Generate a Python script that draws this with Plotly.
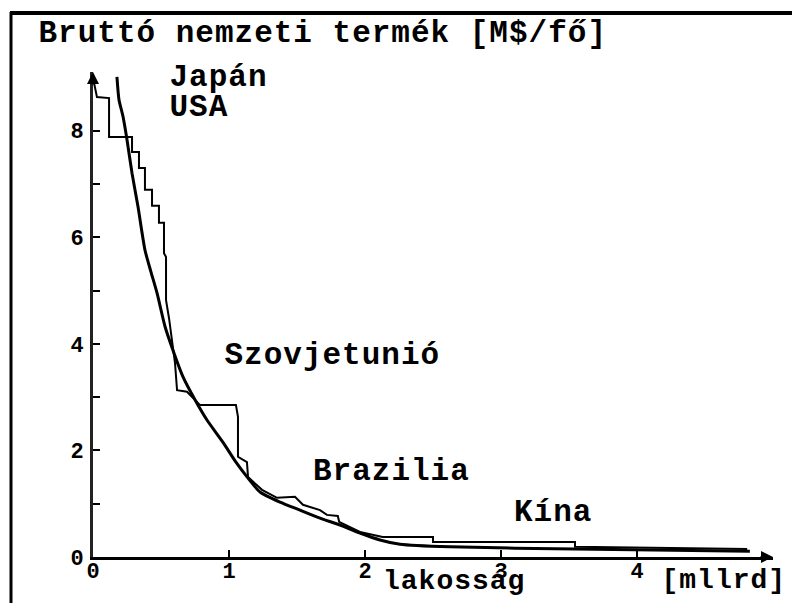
import plotly.graph_objects as go

# ---- data ----
# smooth fitted curve: population [billion] vs GNP per capita
curve_x = [0.176, 0.191, 0.221, 0.25, 0.287, 0.331, 0.382, 0.425, 0.471, 0.529, 0.588, 0.662,
           0.75, 0.838, 0.956, 1.051, 1.14, 1.228, 1.375, 1.522, 1.669, 1.816, 1.963, 2.11,
           2.257, 2.625, 3.544, 4.83]
curve_y = [9.01, 8.58, 8.26, 7.83, 7.20, 6.57, 5.76, 5.36, 4.95, 4.33, 3.88, 3.38,
           2.95, 2.57, 2.15, 1.78, 1.48, 1.22, 1.03, 0.88, 0.73, 0.60, 0.45, 0.32,
           0.24, 0.19, 0.15, 0.11]

# staircase of countries (cumulative population vs GNP per capita)
stair_x = [0.0, 0.029, 0.118, 0.118, 0.287, 0.287, 0.338, 0.338, 0.382, 0.382, 0.434, 0.434,
           0.485, 0.485, 0.522, 0.522, 0.537, 0.537, 0.559, 0.603, 0.618, 0.691, 0.787,
           1.051, 1.066, 1.066, 1.132, 1.14, 1.243, 1.353, 1.485, 1.544, 1.669, 1.72, 1.80,
           1.81, 1.963, 2.13, 2.50, 2.50, 3.544, 3.544, 4.81]
stair_y = [8.99, 8.63, 8.61, 7.88, 7.88, 7.60, 7.60, 7.30, 7.30, 6.89, 6.89, 6.59,
           6.59, 6.27, 6.27, 5.70, 5.63, 4.82, 4.48, 3.64, 3.13, 3.10, 2.85,
           2.85, 2.63, 1.88, 1.78, 1.50, 1.26, 1.11, 1.13, 0.98, 0.88, 0.79, 0.77,
           0.66, 0.47, 0.375, 0.375, 0.28, 0.28, 0.19, 0.15]

x_tick_vals = [0, 1, 2, 3, 4]
x_tick_text = ["0", "1", "2", "3", "4"]
y_tick_vals = [0, 1, 2, 3, 4, 5, 6, 7, 8]
y_tick_text = ["0", "", "2", "", "4", "", "6", "", "8"]

title_text = "Bruttó nemzeti termék [M$/fő]"
labels = ["Japán", "USA", "Szovjetunió", "Brazilia", "Kína"]
label_x = [0.55, 0.55, 0.95, 1.60, 3.08]
label_y = [8.99, 8.44, 3.79, 1.60, 0.84]
x_title = "lakosság"
x_unit = "[mllrd]"

# ---- layout geometry ----
W, H = 792, 603
ML, MR, MT, MB = 93, 19, 72, 46
PW, PH = W - ML - MR, H - MT - MB
LETTER_SP = 1.0  # px of extra letter spacing (applied via CSS, centred by plotly)


def px_x(p):
    return (p - ML) / PW


def px_y(p):
    return (H - MB - p) / PH


def shift(t):
    return len(t) * LETTER_SP / 2.0


FONT = "Liberation Mono"

fig = go.Figure()
fig.add_trace(go.Scatter(x=stair_x, y=stair_y, mode="lines",
                         line=dict(color="black", width=2), hoverinfo="skip"))
fig.add_trace(go.Scatter(x=curve_x, y=curve_y, mode="lines",
                         line=dict(color="black", width=3, shape="spline", smoothing=0.6),
                         hoverinfo="skip"))

annotations = []
annotations.append(dict(text=title_text, xref="paper", yref="paper",
                        x=px_x(36), y=px_y(33), xanchor="left", yanchor="middle",
                        xshift=shift(title_text), showarrow=False,
                        font=dict(family=FONT, size=31, color="black", weight="bold")))
for t, lx, ly in zip(labels, label_x, label_y):
    annotations.append(dict(text=t, x=lx, y=ly, xref="x", yref="y",
                            xanchor="left", yanchor="middle", xshift=shift(t),
                            showarrow=False,
                            font=dict(family=FONT, size=31, color="black", weight="bold")))
annotations.append(dict(text=x_title, xref="paper", yref="paper", x=px_x(381), y=px_y(581),
                        xanchor="left", yanchor="middle", xshift=shift(x_title),
                        showarrow=False,
                        font=dict(family=FONT, size=28, color="black", weight="bold")))
annotations.append(dict(text=x_unit, xref="paper", yref="paper", x=px_x(659), y=px_y(580),
                        xanchor="left", yanchor="middle", xshift=shift(x_unit),
                        showarrow=False,
                        font=dict(family=FONT, size=28, color="black", weight="bold")))
# axis arrows
annotations.append(dict(text="", xref="paper", yref="paper", x=1.0, y=0.0, ax=-14, ay=0,
                        showarrow=True, arrowhead=2, arrowsize=1.2, arrowwidth=2,
                        arrowcolor="black"))
annotations.append(dict(text="", xref="paper", yref="paper", x=0.0, y=1.0, ax=0, ay=14,
                        showarrow=True, arrowhead=2, arrowsize=1.2, arrowwidth=2,
                        arrowcolor="black"))

shapes = [
    dict(type="line", xref="paper", yref="paper", x0=px_x(10), x1=px_x(792),
         y0=px_y(13), y1=px_y(13), line=dict(color="black", width=4)),
    dict(type="line", xref="paper", yref="paper", x0=px_x(11), x1=px_x(11),
         y0=px_y(12), y1=px_y(603), line=dict(color="black", width=3)),
]

tickfont = dict(family=FONT, size=22, color="black", weight="bold")
fig.update_layout(
    width=W, height=H, autosize=False,
    margin=dict(l=ML, r=MR, t=MT, b=MB, pad=0),
    paper_bgcolor="white", plot_bgcolor="white",
    showlegend=False,
    annotations=annotations, shapes=shapes,
    xaxis=dict(range=[0, 5], showgrid=False, zeroline=False, showline=True,
               linecolor="black", linewidth=3, ticks="inside", ticklen=7, tickwidth=2,
               tickcolor="black", tickmode="array", tickvals=x_tick_vals,
               ticktext=x_tick_text, tickfont=tickfont, ticklabelstandoff=-8),
    yaxis=dict(range=[0, 9.1], showgrid=False, zeroline=False, showline=True,
               linecolor="#222", linewidth=3, ticks="inside", ticklen=7, tickwidth=2,
               tickcolor="black", tickmode="array", tickvals=y_tick_vals,
               ticktext=y_tick_text, tickfont=tickfont, ticklabelstandoff=2),
)

post = (
    "document.body.style.margin='0';"
    "var s=document.createElement('style');"
    "s.textContent='.annotation-text{letter-spacing:" + str(LETTER_SP) + "px}';"
    "document.head.appendChild(s);"
)
fig.write_html("out.html", config={"displayModeBar": False}, post_script=post)
